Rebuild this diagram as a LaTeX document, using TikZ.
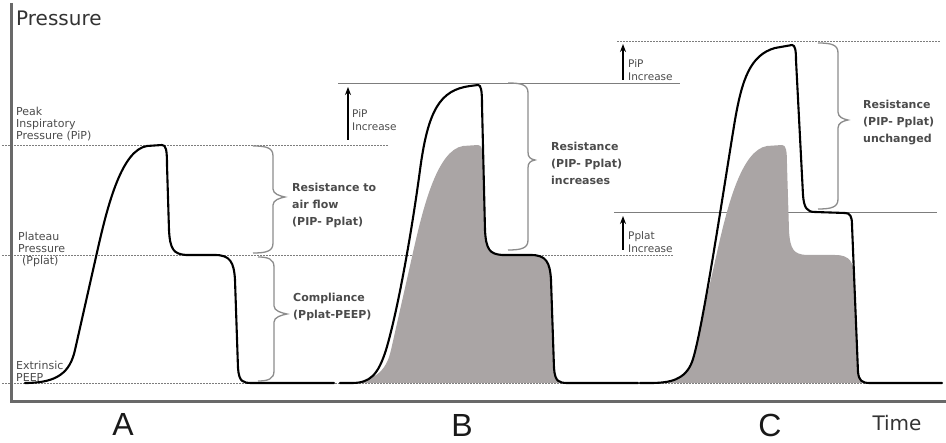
\documentclass[tikz,border=0pt]{standalone}
\usepackage{fontspec}
\setmainfont{DejaVu Sans}
\newfontfamily\arialfont{Liberation Sans}
\usetikzlibrary{arrows.meta}
\definecolor{txtgray}{RGB}{75,75,75}
\definecolor{linegray}{RGB}{125,125,125}
\definecolor{bracegray}{RGB}{140,140,140}
\definecolor{fillgray}{RGB}{170,165,165}
\definecolor{axisgray}{RGB}{105,105,105}
\tikzset{
 refline/.style={linegray, line width=0.9pt, dash pattern=on 2pt off 1pt},
 refsolid/.style={linegray, line width=0.9pt},
 wave/.style={black, line width=2.1pt, line join=round, line cap=round},
 bracestyle/.style={bracegray, line width=1.3pt},
 upar/.style={black, line width=1.4pt, -{Stealth[length=8pt,width=6pt]}},
 bigtxt/.style={font=\fontsize{20}{24}\selectfont, text=black!80, inner sep=0},
 lbl/.style={font=\fontsize{11}{12}\selectfont, text=txtgray, align=left, inner sep=0, anchor=west},
 arlbl/.style={font=\fontsize{10.5}{13.5}\selectfont, text=txtgray, align=left, inner sep=0, anchor=west},
 note/.style={font=\bfseries\fontsize{11}{17}\selectfont, text=txtgray, align=left, inner sep=0, anchor=west},
 letter/.style={font=\arialfont\fontsize{32}{36}\selectfont, text=black!90, inner sep=0},
}
\newcommand{\drawbrace}[6]{%
\draw[bracestyle] (#1,#2) .. controls (#4-6,#2) and (#4,#2+2) .. (#4,#2+10) -- (#4,#6-8) .. controls (#4,#6-3) and (#5-5,#6-1) .. (#5,#6) .. controls (#5-5,#6+1) and (#4,#6+3) .. (#4,#6+8) -- (#4,#3-10) .. controls (#4,#3-2) and (#4-6,#3) .. (#1,#3);}
\newcommand{\shapeA}{(25,383) .. controls (58,383) and (70,372) .. (75,350) -- (98,248) .. controls (108,204) and (122,150) .. (147,146) -- (162,145) .. controls (166,145) and (167,150) .. (167,165) -- (169,230) .. controls (170,250) and (174,254) .. (186,255) -- (215,255) .. controls (230,255) and (234,262) .. (235,280) -- (238,368) .. controls (239,382) and (243,383) .. (252,383)}
\newcommand{\curveB}{(340,383) -- (352,383) .. controls (370,383) and (378,375) .. (386,350) .. controls (398,310) and (412,230) .. (420,170) .. controls (428,110) and (440,90) .. (470,86) -- (478,85) .. controls (481,85) and (482,90) .. (482,105) -- (485,230) .. controls (486,250) and (490,254) .. (502,255) -- (531,255) .. controls (546,255) and (550,262) .. (551,280) -- (554,368) .. controls (555,382) and (559,383) .. (568,383)}
\newcommand{\curveC}{(640,383) -- (650,383) .. controls (670,383) and (685,380) .. (692,362) .. controls (702,335) and (725,180) .. (735,120) .. controls (742,80) and (750,55) .. (775,48) -- (792,45) .. controls (795,45) and (796,50) .. (796,60) -- (803,195) .. controls (804,208) and (807,212) .. (815,212) -- (845,213) .. controls (850,213) and (852,216) .. (852,225) -- (858,372) .. controls (859,381) and (862,383) .. (870,383)}
\begin{document}
\begin{tikzpicture}[x=1pt,y=-1pt]
\useasboundingbox (0,0) rectangle (946,443);
% reference lines
\draw[refline] (2,145) -- (388,145);
\draw[refline] (2,255) -- (673,255);
\draw[refline] (2,383) -- (940,383);
\draw[refsolid] (338,83) -- (680,83);
\draw[refline] (617,41) -- (940,41);
\draw[refsolid] (614,212) -- (937,212);
% gray fills
\begin{scope}
 \clip \curveB -- cycle;
 \fill[fillgray, xshift=316pt] \shapeA -- cycle;
\end{scope}
\begin{scope}
 \clip \curveC -- cycle;
 \fill[fillgray, xshift=620pt] \shapeA -- cycle;
\end{scope}
% waveforms
\draw[wave] \shapeA -- (334,383);
\draw[wave] \curveB -- (638,383);
\draw[wave] \curveC -- (942,383);
% axes
\draw[axisgray, line width=3pt] (11,3) -- (11,402) -- (946,402);
% braces
\drawbrace{253}{146}{253}{273}{285}{197}
\drawbrace{258}{257}{381}{274}{287}{314}
\drawbrace{508}{83}{250}{528}{535}{160}
\drawbrace{818}{43}{209}{838}{848}{120}
% arrows
\coordinate (bpa0) at (348,140); \coordinate (bpa1) at (348,87);
\coordinate (cpa0) at (623,80); \coordinate (cpa1) at (623,44);
\coordinate (cpl0) at (623,250); \coordinate (cpl1) at (623,216);
\draw[upar] (bpa0) -- (bpa1);
\draw[upar] (cpa0) -- (cpa1);
\draw[upar] (cpl0) -- (cpl1);
% texts
\node[bigtxt, anchor=west] (press) at (16,18) {Pressure};
\node[bigtxt] (time) at (897,423) {Time};
\node[letter] (la) at (123,424) {A};
\node[letter] (lb) at (462,425) {B};
\node[letter] (lc) at (770,425) {C};
\node[lbl] (pip) at (16,124) {Peak\\Inspiratory\\Pressure (PiP)};
\node[lbl] (plat) at (18,249) {Plateau\\Pressure\\\hspace*{4pt}(Pplat)};
\node[lbl] (peep) at (16,371) {Extrinsic\\PEEP};
\node[arlbl] (bpip) at (352,120) {PiP\\Increase};
\node[arlbl] (cpip) at (628,70) {PiP\\Increase};
\node[arlbl] (cplat) at (628,242) {Pplat\\Increase};
\node[note] (resA) at (292,205) {Resistance to\\air flow\\(PIP- Pplat)};
\node[note] (comA) at (293,307) {Compliance\\(Pplat-PEEP)};
\node[note] (resB) at (551,163) {Resistance\\(PIP- Pplat)\\increases};
\node[note] (resC) at (863,123) {Resistance\\(PIP- Pplat)\\unchanged};
\end{tikzpicture}
\end{document}
